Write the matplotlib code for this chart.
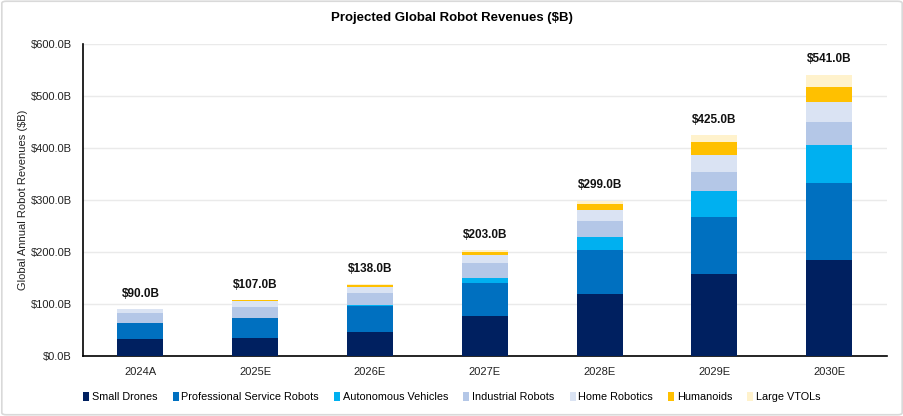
import matplotlib
matplotlib.use("Agg")
import matplotlib.pyplot as plt
from matplotlib.patches import FancyBboxPatch
import numpy as np

plt.rcParams['font.family'] = ['Liberation Sans', 'DejaVu Sans']

categories = ["2024A", "2025E", "2026E", "2027E", "2028E", "2029E", "2030E"]
series_names = ["Small Drones", "Professional Service Robots", "Autonomous Vehicles",
                "Industrial Robots", "Home Robotics", "Humanoids", "Large VTOLs"]
small_drones = [32, 35, 47, 77, 120, 158, 184]
professional = [31, 38, 50, 64, 83, 110, 148]
autonomous = [1, 1, 2, 9, 25, 50, 74]
industrial = [19, 21, 23, 28, 32, 36, 45]
home = [7, 10, 11, 17, 20, 32, 38]
humanoids = [0, 2, 4, 5, 12, 26, 28]
vtols = [0, 0, 1, 3, 7, 13, 24]
totals = [90, 107, 138, 203, 299, 425, 541]
colors = ["#002060", "#0070C0", "#00B0F0", "#B4C7E7", "#DAE3F3", "#FFC000", "#FFF2CC"]

series = [small_drones, professional, autonomous, industrial, home, humanoids, vtols]

fig = plt.figure(figsize=(9.04, 4.16), dpi=100)
ax = fig.add_axes([0.0918, 0.1442, 0.889, 0.7498])

x = np.arange(len(categories))
bottom = np.zeros(len(categories))
for name, vals, c in zip(series_names, series, colors):
    ax.bar(x, vals, 0.4, bottom=bottom, color=c, label=name, zorder=3)
    bottom += np.array(vals)

for xi, t in zip(x, totals):
    ax.text(xi, t + 18, f"${t:.1f}B", ha='center', va='bottom', fontsize=8.5,
            fontweight='bold', color='#111111')

ax.set_xlim(-0.5, len(categories) - 0.5)
ax.set_ylim(0, 600)
ax.set_yticks(np.arange(0, 601, 100))
ax.set_yticklabels([f"${v:.1f}B" for v in np.arange(0, 601, 100)])
ax.set_xticks(x)
ax.set_xticklabels(categories)
ax.tick_params(axis='both', length=0, labelsize=8, colors='#222222', pad=8)
ax.grid(axis='y', color='#EAEAEA', linewidth=1, zorder=0)
for s in ['top', 'right']:
    ax.spines[s].set_visible(False)
for s in ['left', 'bottom']:
    ax.spines[s].set_color('black')
    ax.spines[s].set_linewidth(1.2)
ax.set_ylabel("Global Annual Robot Revenues ($B)", fontsize=8, color='#222222', labelpad=2)

fig.suptitle("Projected Global Robot Revenues ($B)", y=0.97, fontsize=9.5, fontweight='bold')

handles, labels = ax.get_legend_handles_labels()
fig.legend(handles, labels, loc='center', bbox_to_anchor=(0.5, 0.046), ncol=7,
           frameon=False, fontsize=7.8, handlelength=0.55, handleheight=0.9,
           handletextpad=0.25, columnspacing=1.4)

border = FancyBboxPatch((0.002, 0.003), 0.996, 0.994, boxstyle="round,pad=0,rounding_size=0.005",
                        transform=fig.transFigure, fill=False, edgecolor='#D9D9D9', linewidth=1.2)
fig.patches.append(border)

fig.savefig("out.png", dpi=100)
